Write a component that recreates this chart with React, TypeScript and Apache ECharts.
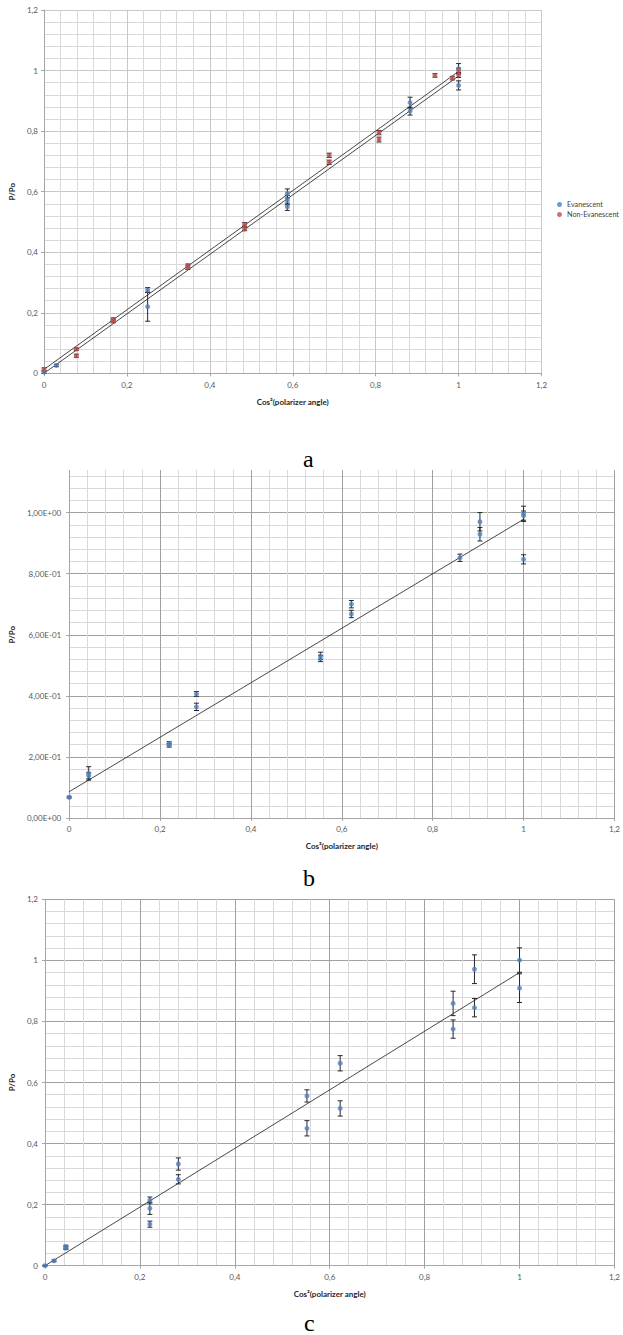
import React, { useEffect, useRef } from "react";
import * as echarts from "echarts";

// ---------- Chart a ----------
const aEvX = [0, 0.03, 0.25, 0.25, 0.587, 0.587, 0.587, 0.883, 0.883, 1.0, 1.0];
const aEvY = [0.004, 0.026, 0.275, 0.22, 0.594, 0.572, 0.55, 0.894, 0.866, 1.006, 0.951];
const aEvErr = [0.004, 0.004, 0.008, 0.048, 0.015, 0.015, 0.012, 0.018, 0.013, 0.017, 0.015];
const aNeX = [0, 0.078, 0.078, 0.167, 0.167, 0.347, 0.347, 0.484, 0.484, 0.688, 0.688, 0.808, 0.808, 0.943, 0.985, 1.0, 1.0];
const aNeY = [0.013, 0.08, 0.058, 0.178, 0.172, 0.355, 0.349, 0.492, 0.477, 0.72, 0.697, 0.795, 0.772, 0.984, 0.975, 1.0, 0.985];
const aNeErr = [0.005, 0.004, 0.005, 0.005, 0.005, 0.006, 0.006, 0.006, 0.006, 0.007, 0.007, 0.007, 0.008, 0.006, 0.006, 0.008, 0.008];
const aTrendEv = [[0, 0.0], [1, 0.982]];
const aTrendNe = [[0, 0.013], [1, 0.997]];

// ---------- Chart b ----------
const bX = [0, 0.043, 0.043, 0.22, 0.22, 0.28, 0.28, 0.553, 0.553, 0.621, 0.621, 0.86, 0.904, 0.904, 1.0, 1.0, 1.0];
const bY = [0.068, 0.146, 0.138, 0.244, 0.238, 0.406, 0.364, 0.531, 0.522, 0.7, 0.668, 0.852, 0.97, 0.929, 0.996, 0.99, 0.847];
const bErr = [0.003, 0.022, 0.01, 0.006, 0.006, 0.008, 0.012, 0.012, 0.01, 0.012, 0.012, 0.012, 0.03, 0.022, 0.025, 0.015, 0.015];
const bTrend = [[0, 0.086], [1, 0.978]];

// ---------- Chart c ----------
const cX = [0, 0.019, 0.044, 0.044, 0.221, 0.221, 0.221, 0.281, 0.281, 0.552, 0.552, 0.622, 0.622, 0.86, 0.86, 0.905, 0.905, 1.0, 1.0];
const cY = [0, 0.016, 0.062, 0.058, 0.215, 0.188, 0.136, 0.333, 0.283, 0.556, 0.45, 0.515, 0.663, 0.859, 0.775, 0.971, 0.845, 1.001, 0.909];
const cErr = [0.002, 0.003, 0.005, 0.005, 0.01, 0.02, 0.01, 0.02, 0.015, 0.02, 0.025, 0.025, 0.025, 0.04, 0.03, 0.047, 0.03, 0.04, 0.047];
const cTrend = [[0, 0.0], [1, 0.96]];

const xTitle = "Cos²(polarizer angle)";
const yTitle = "P/Po";
const legendNames = ["Evanescent", "Non-Evanescent"];
const panelLabels = ["a", "b", "c"];

const BLUE = "#4F81BD";
const RED = "#C0504D";
const FONT = "Lato, 'Open Sans', sans-serif";

const commaFmt = (v: number) => String(Math.round(v * 10) / 10).replace(".", ",");
const sciFmt = (v: number) =>
  v.toExponential(2).replace(".", ",").replace(/e([+-])(\d)$/, "E$10$2");

function errData(xs: number[], ys: number[], es: number[]) {
  return xs.map((x, i) => [x, ys[i] - es[i], ys[i] + es[i]]);
}
function pts(xs: number[], ys: number[]) {
  return xs.map((x, i) => [x, ys[i]]);
}

const errorRender = (params: any, api: any) => {
  const x = api.value(0);
  const lo = api.value(1);
  const hi = api.value(2);
  const top = api.coord([x, hi]);
  const bot = api.coord([x, lo]);
  const w = 2.5;
  const st = { stroke: "#262626", lineWidth: 1 };
  return {
    type: "group",
    children: [
      { type: "line", shape: { x1: top[0], y1: top[1], x2: bot[0], y2: bot[1] }, style: st },
      { type: "line", shape: { x1: top[0] - w, y1: top[1], x2: top[0] + w, y2: top[1] }, style: st },
      { type: "line", shape: { x1: bot[0] - w, y1: bot[1], x2: bot[0] + w, y2: bot[1] }, style: st },
    ],
  };
};

function xAxisCfg(idx: number, nameGap: number, majorColor: string, labelMargin: number) {
  return {
    type: "value",
    gridIndex: idx,
    min: 0,
    max: 1.2,
    interval: 0.2,
    name: xTitle,
    nameLocation: "middle",
    nameGap,
    nameTextStyle: { fontFamily: FONT, fontSize: 8, fontWeight: "bold", color: "#262626" },
    axisLine: { show: true, lineStyle: { color: "#A6A6A6", width: 1 } },
    axisTick: { show: true, length: 3, lineStyle: { color: "#A6A6A6" } },
    axisLabel: { formatter: commaFmt, fontFamily: FONT, fontSize: 8, color: "#595959", margin: labelMargin },
    splitLine: { show: true, lineStyle: { color: majorColor, width: 1 } },
    minorTick: { show: false, splitNumber: 5 },
    minorSplitLine: { show: true, lineStyle: { color: "#D9D9D9", width: 1 } },
  };
}

function yAxisCfg(idx: number, nameGap: number, majorColor: string, fmt: (v: number) => string, labelMargin: number) {
  return {
    type: "value",
    gridIndex: idx,
    min: 0,
    max: 1.2,
    interval: 0.2,
    name: yTitle,
    nameLocation: "middle",
    nameGap,
    nameRotate: 90,
    nameTextStyle: { fontFamily: FONT, fontSize: 8, fontWeight: "bold", color: "#262626" },
    axisLine: { show: true, lineStyle: { color: "#A6A6A6", width: 1 } },
    axisTick: { show: true, length: 3, lineStyle: { color: "#A6A6A6" } },
    axisLabel: { formatter: fmt, fontFamily: FONT, fontSize: 8, color: "#595959", margin: labelMargin },
    splitLine: { show: true, lineStyle: { color: majorColor, width: 1 } },
    minorTick: { show: false, splitNumber: 5 },
    minorSplitLine: { show: true, lineStyle: { color: "#D9D9D9", width: 1 } },
  };
}

function trendSeries(idx: number, data: number[][]) {
  return {
    type: "line",
    xAxisIndex: idx,
    yAxisIndex: idx,
    data,
    symbol: "none",
    silent: true,
    lineStyle: { color: "#1a1a1a", width: 0.8 },
    z: 3,
  };
}

function errSeries(idx: number, data: number[][]) {
  return {
    type: "custom",
    xAxisIndex: idx,
    yAxisIndex: idx,
    renderItem: errorRender,
    data,
    encode: { x: 0, y: [1, 2] },
    silent: true,
    z: 4,
  };
}

function scatterSeries(idx: number, name: string, color: string, data: number[][]) {
  return {
    type: "scatter",
    name,
    xAxisIndex: idx,
    yAxisIndex: idx,
    data,
    symbol: "circle",
    symbolSize: 5,
    itemStyle: { color },
    z: 5,
  };
}

export default function App() {
  const ref = useRef<HTMLDivElement>(null);
  useEffect(() => {
    if (!ref.current) return;
    const chart = echarts.init(ref.current, undefined, { renderer: "svg" });
    chart.setOption({
      animation: false,
      backgroundColor: "#ffffff",
      grid: [
        { left: 43.5, top: 10, width: 498, height: 363.3 },
        { left: 65, top: 451.5, width: 554, height: 366.5 },
        { left: 38.3, top: 899.3, width: 580, height: 366.4 },
      ],
      xAxis: [
        xAxisCfg(0, 25, "#C8C8C8", 8),
        xAxisCfg(1, 24, "#A0A0A0", 7),
        xAxisCfg(2, 24, "#A0A0A0", 7),
      ],
      yAxis: [
        yAxisCfg(0, 28, "#C8C8C8", commaFmt, 6),
        yAxisCfg(1, 46, "#A0A0A0", sciFmt, 8),
        yAxisCfg(2, 23, "#A0A0A0", commaFmt, 7),
      ],
      legend: {
        orient: "vertical",
        left: 552,
        top: 196,
        itemWidth: 5,
        itemHeight: 5,
        itemGap: 3,
        textStyle: { fontFamily: FONT, fontSize: 7.2, color: "#404040", overflow: "none" },
        data: [
          { name: legendNames[0], icon: "circle" },
          { name: legendNames[1], icon: "circle" },
        ],
      },
      graphic: [
        { type: "rect", left: 0, top: 430, shape: { width: 623, height: 40 }, style: { fill: "#ffffff" }, z: 50 },
        { type: "text", left: 303, top: 447, z: 60, style: { text: panelLabels[0], font: "24px 'Liberation Serif', serif", fill: "#000" } },
        { type: "text", left: 303, top: 866, z: 60, style: { text: panelLabels[1], font: "24px 'Liberation Serif', serif", fill: "#000" } },
        { type: "text", left: 304, top: 1311, z: 60, style: { text: panelLabels[2], font: "24px 'Liberation Serif', serif", fill: "#000" } },
      ],
      series: [
        trendSeries(0, aTrendEv),
        trendSeries(0, aTrendNe),
        errSeries(0, errData(aEvX, aEvY, aEvErr)),
        errSeries(0, errData(aNeX, aNeY, aNeErr)),
        scatterSeries(0, legendNames[0], BLUE, pts(aEvX, aEvY)),
        scatterSeries(0, legendNames[1], RED, pts(aNeX, aNeY)),
        trendSeries(1, bTrend),
        errSeries(1, errData(bX, bY, bErr)),
        scatterSeries(1, "b", BLUE, pts(bX, bY)),
        trendSeries(2, cTrend),
        errSeries(2, errData(cX, cY, cErr)),
        scatterSeries(2, "c", BLUE, pts(cX, cY)),
      ],
    });
    return () => chart.dispose();
  }, []);
  return (
    <div
      ref={ref}
      style={{ position: "absolute", left: 0, top: 0, width: 623, height: 1335, background: "#fff" }}
    />
  );
}
